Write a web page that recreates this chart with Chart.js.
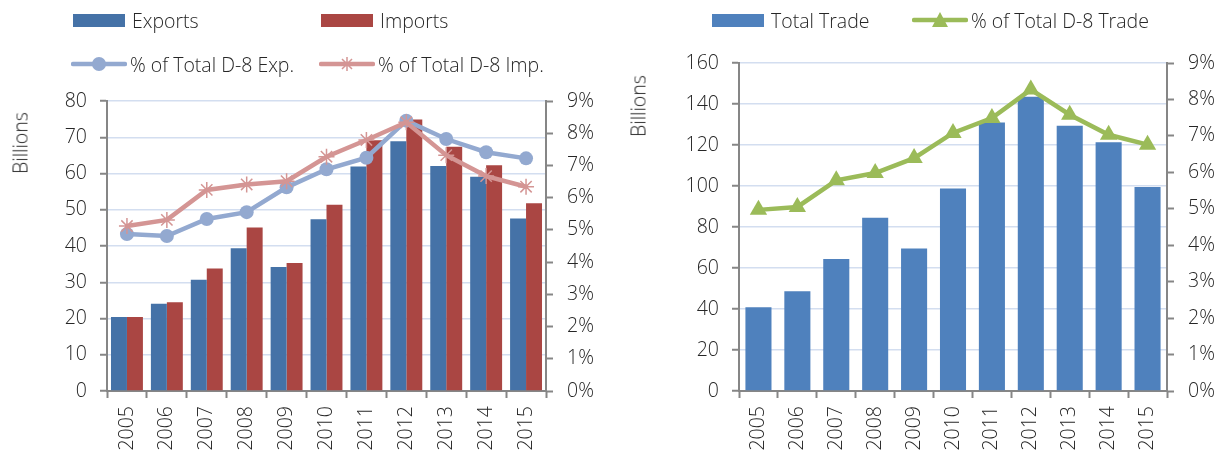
<!DOCTYPE html>
<html>
<head>
<meta charset="utf-8">
<title>D-8 Trade</title>
<script src="https://cdn.jsdelivr.net/npm/chart.js@4.4.0/dist/chart.umd.min.js"></script>
<style>
  body { margin: 0; background: #fff; }
  #wrap { position: relative; width: 1230px; height: 457px; font-family: "Open Sans", sans-serif; font-weight: 300; color: #262626; }
  canvas { position: absolute; top: 0; }
  .legend-item { position: absolute; display: flex; align-items: center; height: 26px; font-size: 19.5px; white-space: nowrap; }
  .swatch { width: 52px; height: 13px; margin-right: 7px; }
  .legend-item svg { margin-right: 3px; }
  .axis-title { position: absolute; font-size: 19.5px; transform: translate(-50%, -50%) rotate(-90deg); white-space: nowrap; }
</style>
</head>
<body>
<div id="wrap">
  <canvas id="tradeSplit" width="600" height="457" style="left:0"></canvas>
  <canvas id="tradeTotal" width="615" height="457" style="left:615px"></canvas>

  <div class="axis-title" style="left:20px; top:143px">Billions</div>
  <div class="axis-title" style="left:638px; top:106px">Billions</div>

  <div class="legend-item" style="left:73px; top:7px"><div class="swatch" style="background:#4572a7"></div>Exports</div>
  <div class="legend-item" style="left:321px; top:7px"><div class="swatch" style="background:#aa4643"></div>Imports</div>
  <div class="legend-item" style="left:71px; top:51px">
    <svg width="56" height="16"><line x1="2" y1="8" x2="54" y2="8" stroke="#93a9d0" stroke-width="4.5" stroke-linecap="round"/><circle cx="28" cy="8" r="7" fill="#93a9d0"/></svg>% of Total D-8 Exp.</div>
  <div class="legend-item" style="left:319px; top:51px">
    <svg width="56" height="16"><line x1="2" y1="8" x2="54" y2="8" stroke="#d49594" stroke-width="4.5" stroke-linecap="round"/><path d="M28 1V15M21 8H35M23 3L33 13M33 3L23 13" stroke="#d49594" stroke-width="1.5"/></svg>% of Total D-8 Imp.</div>
  <div class="legend-item" style="left:712px; top:7px"><div class="swatch" style="background:#4f81bd"></div>Total Trade</div>
  <div class="legend-item" style="left:912px; top:7px">
    <svg width="56" height="16"><line x1="2" y1="8" x2="54" y2="8" stroke="#9bbb59" stroke-width="4.5" stroke-linecap="round"/><path d="M28 0L36 15H20Z" fill="#9bbb59"/></svg>% of Total D-8 Trade</div>
</div>

<script>
// Years on the category axis
const years = ['2005', '2006', '2007', '2008', '2009', '2010', '2011', '2012', '2013', '2014', '2015'];

// Trade values, billions
const exportsBn = [20.4, 24.1, 30.7, 39.4, 34.2, 47.4, 61.9, 68.9, 62.1, 59.1, 47.6];
const importsBn = [20.4, 24.5, 33.8, 45.1, 35.3, 51.4, 69.2, 74.9, 67.4, 62.3, 51.8];
const totalTradeBn = [40.9, 48.7, 64.4, 84.5, 69.5, 98.8, 131.0, 143.5, 129.4, 121.4, 99.5];

// Share of total D-8 trade, percent
const expSharePct = [4.87, 4.81, 5.34, 5.55, 6.32, 6.88, 7.24, 8.39, 7.82, 7.41, 7.22];
const impSharePct = [5.12, 5.31, 6.24, 6.41, 6.51, 7.27, 7.79, 8.34, 7.32, 6.67, 6.34];
const tradeSharePct = [4.97, 5.05, 5.78, 5.98, 6.39, 7.08, 7.49, 8.27, 7.58, 7.03, 6.76];

const AXIS_GREY = '#868686';
const GRID_BLUE = '#d3def0';
const FONT = { family: "'Open Sans', sans-serif", size: 19.5, weight: 300 };

Chart.defaults.color = '#262626';
Chart.defaults.font = FONT;

// fixed axis widths so both plot areas line up the same way every time
function fixWidth(w) {
    return scale => { scale.width = w; };
}

function xAxis() {
    return {
        border: { color: AXIS_GREY, width: 2 },
        grid: { drawOnChartArea: false, tickLength: 7, tickColor: AXIS_GREY, tickWidth: 2 },
        ticks: { minRotation: 90, maxRotation: 90, padding: 8, font: FONT },
        afterFit: scale => { scale.height = 66; }
    };
}

function leftAxis(max, step, width) {
    return {
        position: 'left',
        min: 0, max: max,
        border: { color: AXIS_GREY, width: 2 },
        grid: {
            color: GRID_BLUE, lineWidth: 1.5, borderDash: [7, 4],
            tickLength: 7, tickColor: AXIS_GREY, tickWidth: 2, tickBorderDash: []
        },
        ticks: { stepSize: step, padding: 13, font: FONT },
        afterFit: fixWidth(width)
    };
}

function pctAxis(width) {
    return {
        position: 'right',
        min: 0, max: 9,
        border: { color: AXIS_GREY, width: 2 },
        grid: { drawOnChartArea: false, tickLength: 7, tickColor: AXIS_GREY, tickWidth: 2 },
        ticks: { stepSize: 1, padding: 14, font: FONT, callback: v => v + '%' },
        afterFit: fixWidth(width)
    };
}

const baseOptions = {
    responsive: false,
    animation: false,
    plugins: { legend: { display: false }, tooltip: { enabled: false } }
};

// Exports / imports with their shares
new Chart(document.getElementById('tradeSplit'), {
    type: 'bar',
    data: {
        labels: years,
        datasets: [
            {
                type: 'line', label: '% of Total D-8 Imp.', data: impSharePct, yAxisID: 'pct', order: 0,
                borderColor: '#d49594', borderWidth: 4.5, pointStyle: 'star', pointRadius: 8,
                pointBorderColor: '#d49594', pointBorderWidth: 1.5, pointBackgroundColor: '#d49594'
            },
            {
                type: 'line', label: '% of Total D-8 Exp.', data: expSharePct, yAxisID: 'pct', order: 1,
                borderColor: '#93a9d0', borderWidth: 4.5, pointStyle: 'circle', pointRadius: 7,
                pointBorderWidth: 0, pointBackgroundColor: '#93a9d0'
            },
            { label: 'Exports', data: exportsBn, yAxisID: 'y', order: 2, backgroundColor: '#4572a7', categoryPercentage: 0.8, barPercentage: 1 },
            { label: 'Imports', data: importsBn, yAxisID: 'y', order: 2, backgroundColor: '#aa4643', categoryPercentage: 0.8, barPercentage: 1 }
        ]
    },
    options: {
        ...baseOptions,
        layout: { padding: { top: 101, left: 0, right: 0, bottom: 0 } },
        scales: {
            x: xAxis(),
            y: leftAxis(80, 10, 107),
            pct: pctAxis(54)
        }
    }
});

// Total trade with its share
new Chart(document.getElementById('tradeTotal'), {
    type: 'bar',
    data: {
        labels: years,
        datasets: [
            {
                type: 'line', label: '% of Total D-8 Trade', data: tradeSharePct, yAxisID: 'pct', order: 0,
                borderColor: '#9bbb59', borderWidth: 4.5, pointStyle: 'triangle', pointRadius: 10,
                pointBorderWidth: 0, pointBackgroundColor: '#9bbb59'
            },
            { label: 'Total Trade', data: totalTradeBn, yAxisID: 'y', order: 1, backgroundColor: '#4f81bd', categoryPercentage: 0.67, barPercentage: 1 }
        ]
    },
    options: {
        ...baseOptions,
        layout: { padding: { top: 63, left: 0, right: 0, bottom: 0 } },
        scales: {
            x: xAxis(),
            y: leftAxis(160, 20, 124),
            pct: pctAxis(63)
        }
    }
});
</script>
</body>
</html>
